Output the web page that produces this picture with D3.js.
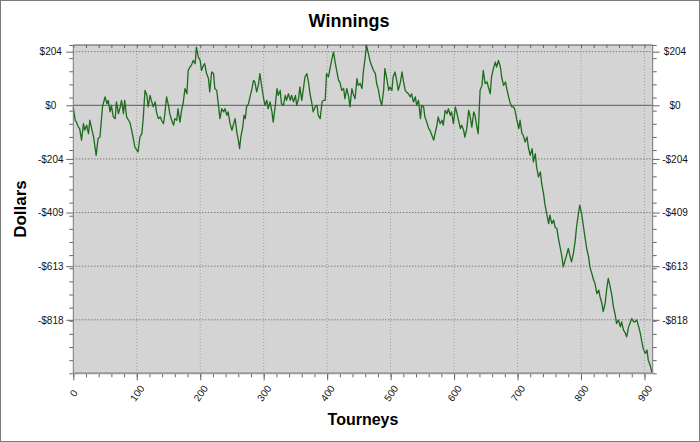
<!DOCTYPE html>
<html>
<head>
<meta charset="utf-8">
<script src="https://cdn.jsdelivr.net/npm/d3@7"></script>
<style>
  body { margin: 0; background: #fff; }
  svg { display: block; font-family: "Liberation Sans", Arial, sans-serif; }
</style>
</head>
<body>
<div id="chart"></div>
<script>
// tourney number (x) and running winnings in dollars (y)
var tourneys = [
  0,3,5,8,10,13,16,18,21,24,
  26,29,32,36,39,42,46,50,53,55,
  58,60,63,66,68,71,74,76,79,81,
  84,87,89,92,95,97,100,102,105,108,
  110,113,116,118,121,123,126,129,131,134,
  137,139,142,144,147,150,152,155,158,160,
  163,165,168,171,173,176,179,181,184,186,
  189,192,194,197,200,202,205,207,210,213,
  215,218,221,223,226,
  229,231,234,237,239,242,244,247,250,252,
  255,258,260,262,264,267,269,271,273,276,
  279,281,284,286,289,292,294,297,300,302,
  305,307,310,313,315,318,321,323,326,328,
  331,334,336,339,342,344,347,350,352,355,
  357,360,363,365,368,371,373,376,378,381,
  384,386,389,392,394,397,399,402,405,407,
  410,413,415,418,420,423,426,428,431,434,
  436,439,441,444,447,449,
  452,455,457,460,462,465,468,470,473,476,
  478,481,483,486,489,491,494,497,499,502,
  504,507,510,512,515,518,520,523,525,528,
  531,533,536,539,541,544,547,549,552,554,
  557,560,562,565,568,570,573,575,578,581,
  583,586,589,591,594,596,599,602,604,607,
  610,612,615,617,620,623,625,628,631,633,
  636,638,641,644,646,649,652,654,657,659,
  662,665,667,670,673,675,678,681,
  683,686,688,691,694,696,699,702,704,707,
  709,712,715,717,720,723,725,728,730,733,
  736,738,741,743,746,749,751,754,757,759,
  762,764,767,770,772,775,778,780,783,785,
  788,791,793,796,798,801,804,807,809,812,
  814,817,820,822,825,828,830,833,835,838,
  841,843,846,849,851,854,856,859,862,864,
  867,870,872,875,877,880,883,885,888,891,
  893,896,898,901,904,906,909,912
];
var winnings = [
  -8,-57,-64,-83,-89,-133,-70,-95,-76,-108,
  -57,-89,-121,-191,-127,-121,-6,32,6,19,
  -25,0,-44,-51,13,-32,-6,19,-32,19,
  -44,-57,-64,-95,-133,-159,-171,-178,-121,-108,
  -57,57,38,-6,38,19,-6,13,-25,-51,
  -44,-57,-70,-38,32,0,-32,-57,-76,-51,
  -57,-13,-64,-13,6,64,44,133,146,152,
  171,159,222,184,171,133,152,159,121,102,
  51,127,121,64,57,
  -6,-51,-13,-25,-13,-38,-25,-70,-95,-76,
  -51,-108,-133,-165,-121,-83,-38,-51,-6,6,
  38,57,95,89,51,83,121,70,25,0,
  19,-13,13,-25,-64,-6,64,38,57,6,
  0,38,19,44,19,38,13,38,0,25,
  70,19,70,108,121,83,44,6,-25,-6,
  0,-38,-51,13,19,19,121,108,146,171,
  203,159,133,95,89,57,64,25,64,32,
  -6,64,44,25,102,76,
  83,64,127,184,229,197,165,152,133,121,
  83,57,25,0,57,140,102,57,70,57,
  108,127,89,57,83,127,95,57,51,44,
  32,44,13,32,0,19,-51,0,-6,-44,
  -64,-89,-95,-114,-133,-108,-76,-44,-70,-57,
  -76,-19,-32,-13,-38,-25,-70,-6,-25,-57,
  -89,-76,-95,-121,-89,-19,-38,-83,-25,-38,
  -83,-108,57,76,133,83,89,70,44,108,
  140,165,146,171,146,108,76,89,
  64,32,13,-6,-6,-19,-57,-89,-57,-108,
  -114,-140,-121,-159,-191,-165,-216,-184,-235,-273,
  -254,-298,-337,-375,-413,-451,-419,-451,-438,-464,
  -470,-502,-540,-578,-616,-591,-565,-546,-578,-597,
  -565,-514,-464,-413,-381,-413,-464,-514,-546,-578,
  -616,-641,-667,-679,-718,-705,-730,-756,-787,-756,
  -692,-660,-692,-730,-768,-800,-832,-819,-845,-826,
  -857,-870,-883,-845,-832,-813,-826,-826,-819,-845,
  -864,-902,-927,-946,-933,-972,-991,-1022
];

var xTicks = [0,100,200,300,400,500,600,700,800,900];
var yTicks = [204.5,0,-204.5,-409,-613.5,-818];
var yTickLabels = ["$204","$0","-$204","-$409","-$613","-$818"];

var xMax = 913, yMin = -1022, yMax = 230;

var svgWidth = 700;
var svgHeight = 442;
var margin = { top: 45, right: 47.3, bottom: 68.7, left: 73.3 };
var width = svgWidth - margin.left - margin.right;
var height = svgHeight - margin.top - margin.bottom;

var svg = d3.select("#chart").append("svg")
  .attr("width", svgWidth)
  .attr("height", svgHeight);

// outer frame
svg.append("rect")
  .attr("x", 0.5).attr("y", 0.5)
  .attr("width", svgWidth - 1).attr("height", svgHeight - 1)
  .attr("fill", "#fff").attr("stroke", "#7a7a7a");

var chartGroup = svg.append("g")
  .attr("transform", `translate(${margin.left}, ${margin.top})`);

var xScale = d3.scaleLinear().domain([0, xMax]).range([0, width]);
var yScale = d3.scaleLinear().domain([yMin, yMax]).range([height, 0]);

chartGroup.append("rect")
  .attr("width", width).attr("height", height)
  .attr("fill", "#d4d4d4");

// grid
chartGroup.selectAll(".vgrid").data(xTicks.slice(1)).enter()
  .append("line")
  .attr("x1", d => xScale(d)).attr("x2", d => xScale(d))
  .attr("y1", 0).attr("y2", height)
  .attr("stroke", "#a0a0a0").attr("stroke-dasharray", "1,2");

chartGroup.selectAll(".hgrid").data(yTicks.filter(d => d !== 0)).enter()
  .append("line")
  .attr("x1", 0).attr("x2", width)
  .attr("y1", d => yScale(d)).attr("y2", d => yScale(d))
  .attr("stroke", "#555").attr("stroke-dasharray", "1,2");

chartGroup.append("line")
  .attr("x1", 0).attr("x2", width)
  .attr("y1", yScale(0)).attr("y2", yScale(0))
  .attr("stroke", "#5a5a5a");

// winnings line
var data = tourneys.map((t, i) => ({ t: t, v: winnings[i] }));
var line = d3.line().x(d => xScale(d.t)).y(d => yScale(d.v));
chartGroup.append("path")
  .datum(data)
  .attr("d", line)
  .attr("fill", "none")
  .attr("stroke", "#1d6b1d")
  .attr("stroke-width", 1.3)
  .attr("stroke-linejoin", "round");

// minor tick positions
var xMinor = d3.range(0, xMax, 20);
var yMinor = d3.range(26).map(i => yMin + i * (yMax - yMin) / 25);

function styleAxis(g) {
  g.select(".domain").remove();
  g.selectAll("line").attr("stroke", "#666");
}

chartGroup.append("g").call(d3.axisLeft(yScale).tickValues(yMinor).tickSize(4).tickFormat("")).call(styleAxis);
chartGroup.append("g").attr("transform", `translate(${width},0)`)
  .call(d3.axisRight(yScale).tickValues(yMinor).tickSize(4).tickFormat("")).call(styleAxis);
chartGroup.append("g").attr("transform", `translate(0,${height})`)
  .call(d3.axisBottom(xScale).tickValues(xMinor).tickSize(4).tickFormat("")).call(styleAxis);
chartGroup.append("g")
  .call(d3.axisBottom(xScale).tickValues(xMinor).tickSize(3).tickFormat("")).call(styleAxis);

var fmt = d => yTickLabels[yTicks.indexOf(d)];
var leftAxis = chartGroup.append("g")
  .call(d3.axisLeft(yScale).tickValues(yTicks).tickSize(7).tickFormat(fmt)).call(styleAxis);
leftAxis.selectAll("text")
  .attr("x", -22.6).attr("text-anchor", "middle")
  .attr("fill", "#111").style("font-size", "10px");

var rightAxis = chartGroup.append("g").attr("transform", `translate(${width},0)`)
  .call(d3.axisRight(yScale).tickValues(yTicks).tickSize(7).tickFormat(fmt)).call(styleAxis);
rightAxis.selectAll("text")
  .attr("x", 22.3).attr("text-anchor", "middle")
  .attr("fill", "#111").style("font-size", "10px");

var bottomAxis = chartGroup.append("g").attr("transform", `translate(0,${height})`)
  .call(d3.axisBottom(xScale).tickValues(xTicks).tickSize(7)).call(styleAxis);
bottomAxis.selectAll("text")
  .attr("y", 0).attr("dy", "0.35em")
  .attr("text-anchor", "middle")
  .attr("transform", "translate(0,20) rotate(-55)")
  .attr("fill", "#111").style("font-size", "10px");

// plot border
chartGroup.append("line").attr("x1", 0).attr("x2", width).attr("y1", 0).attr("y2", 0)
  .attr("stroke", "#555");
chartGroup.append("line").attr("x1", 0).attr("x2", 0).attr("y1", 0).attr("y2", height)
  .attr("stroke", "#777");
chartGroup.append("line").attr("x1", width).attr("x2", width).attr("y1", 0).attr("y2", height)
  .attr("stroke", "#777");
chartGroup.append("line").attr("x1", 0).attr("x2", width).attr("y1", height).attr("y2", height)
  .attr("stroke", "#999").attr("stroke-width", 2);

// titles
svg.append("text")
  .attr("x", 349).attr("y", 27)
  .attr("text-anchor", "middle")
  .style("font-size", "18px").style("font-weight", "bold")
  .text("Winnings");

svg.append("text")
  .attr("transform", "translate(26,209) rotate(-90)")
  .attr("text-anchor", "middle")
  .style("font-size", "17px").style("font-weight", "bold")
  .text("Dollars");

svg.append("text")
  .attr("x", margin.left + width / 2).attr("y", 425)
  .attr("text-anchor", "middle")
  .style("font-size", "16px").style("font-weight", "bold")
  .text("Tourneys");
</script>
</body>
</html>
